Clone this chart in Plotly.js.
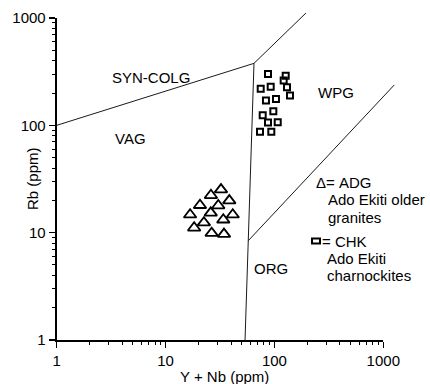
<!DOCTYPE html>
<html>
<head>
<meta charset="utf-8">
<script src="https://cdn.plot.ly/plotly-3.0.1.min.js"></script>
<style>html,body{margin:0;padding:0;background:#fff;}#chart{width:430px;height:384px;}</style>
</head>
<body>
<div id="chart"></div>
<script>
// ---- data ----
const adgX = [32.3, 26.1, 38.5, 20.7, 30.5, 26.0, 16.8, 41.4, 33.9, 22.5, 18.3, 26.5, 34.4];
const adgY = [25.2, 22.3, 19.9, 18.0, 17.9, 15.3, 14.7, 14.7, 13.2, 12.4, 11.1, 9.9, 9.7];
const chkX = [87.3, 126.9, 121.6, 74.8, 92.4, 130.4, 138.9, 83.6, 103.3, 97.7, 78.0, 87.3, 107.2, 73.7, 93.6];
const chkY = [301, 290, 261, 219, 229, 226, 190, 170, 176, 135, 124, 106, 107, 87, 87];

// discrimination boundaries
const synVagX = [1, 64.9];     const synVagY = [100, 378];
const synWpgX = [64.9, 195];   const synWpgY = [378, 1114];
const vagOrgX = [64.9, 53.7];  const vagOrgY = [378, 1];
const wpgOrgX = [57.4, 1262];  const wpgOrgY = [8.4, 238];

const tickVals = [1, 10, 100, 1000];
const tickText = ['1', '10', '100', '1000'];

// ---- layout geometry (pixels) ----
const W = 430, H = 384;
const X0 = 56.7, X1 = 383.3, YB = 340, YT = 18;
const px = x => x / W;
const py = y => (H - y) / H;
const FONT = 'Liberation Sans, Arial, Helvetica, sans-serif';

const lineStyle = {color: '#1a1a1a', width: 1};
function boundary(xs, ys) {
  return {x: xs, y: ys, xaxis: 'x2', yaxis: 'y2', mode: 'lines', line: lineStyle,
          hoverinfo: 'skip', showlegend: false};
}

const traces = [
  {x: adgX, y: adgY, mode: 'markers', name: 'ADG', showlegend: false,
   marker: {symbol: 'triangle-up-open', size: 11, color: '#000', line: {width: 1.8, color: '#000'}}},
  {x: chkX, y: chkY, mode: 'markers', name: 'CHK', showlegend: false,
   marker: {symbol: 'square-open', size: 6, color: '#000', line: {width: 2, color: '#000'}}},
  boundary(synVagX, synVagY),
  boundary(synWpgX, synWpgY),
  boundary(vagOrgX, vagOrgY),
  boundary(wpgOrgX, wpgOrgY)
];

const axisCommon = {
  type: 'log', range: [0, 3], tickmode: 'array', tickvals: tickVals, ticktext: tickText,
  ticks: 'outside', ticklen: 6, tickwidth: 1.5, tickcolor: '#000',
  showline: true, linewidth: 2, linecolor: '#000', mirror: false,
  showgrid: false, zeroline: false, automargin: false,
  tickfont: {family: FONT, size: 15, color: '#000'},
  minor: {dtick: 'D1', ticks: 'outside', ticklen: 3, tickwidth: 1, tickcolor: '#000', showgrid: false}
};

const dec = 3 / (X1 - X0);
const decY = 3 / (YB - YT);

function lab(text, x, y, anchor, size, angle) {
  return {text: text, xref: 'paper', yref: 'paper', x: px(x), y: py(y),
          xanchor: anchor || 'center', yanchor: 'middle', showarrow: false,
          textangle: angle || 0, font: {family: FONT, size: size || 15, color: '#000'}};
}

const layout = {
  width: W, height: H,
  margin: {l: 0, r: 0, t: 0, b: 0},
  paper_bgcolor: '#fff', plot_bgcolor: 'rgba(0,0,0,0)',
  showlegend: false,
  xaxis: Object.assign({}, axisCommon, {domain: [px(X0), px(X1)], anchor: 'y'}),
  yaxis: Object.assign({}, axisCommon, {domain: [py(YB), py(YT)], anchor: 'x'}),
  xaxis2: {type: 'log', domain: [0, 1], anchor: 'y2', visible: false,
           range: [-X0 * dec, 3 + (W - X1) * dec]},
  yaxis2: {type: 'log', domain: [0, 1], anchor: 'x2', visible: false,
           range: [-(H - YB) * decY, 3 + YT * decY]},
  annotations: [
    lab('Y + Nb (ppm)', 224, 376),
    lab('Rb (ppm)', 32, 179, 'center', 15, -90),
    lab('SYN-COLG', 151, 77),
    lab('VAG', 130, 138),
    lab('WPG', 336, 92),
    lab('ORG', 271, 268),
    lab('\u0394= ADG', 314, 182, 'left'),
    lab('Ado Ekiti older', 326, 200, 'left'),
    lab('granites', 326, 217.5, 'left'),
    lab('= CHK', 320, 241, 'left'),
    lab('Ado Ekiti', 325, 258.5, 'left'),
    lab('charnockites', 325, 275.5, 'left')
  ],
  shapes: [
    {type: 'rect', xref: 'paper', yref: 'paper', x0: px(312), x1: px(320), y0: py(243.5), y1: py(238.5),
     line: {color: '#000', width: 2}, fillcolor: 'rgba(0,0,0,0)'}
  ]
};

Plotly.newPlot('chart', traces, layout, {staticPlot: true, displayModeBar: false});
</script>
</body>
</html>
